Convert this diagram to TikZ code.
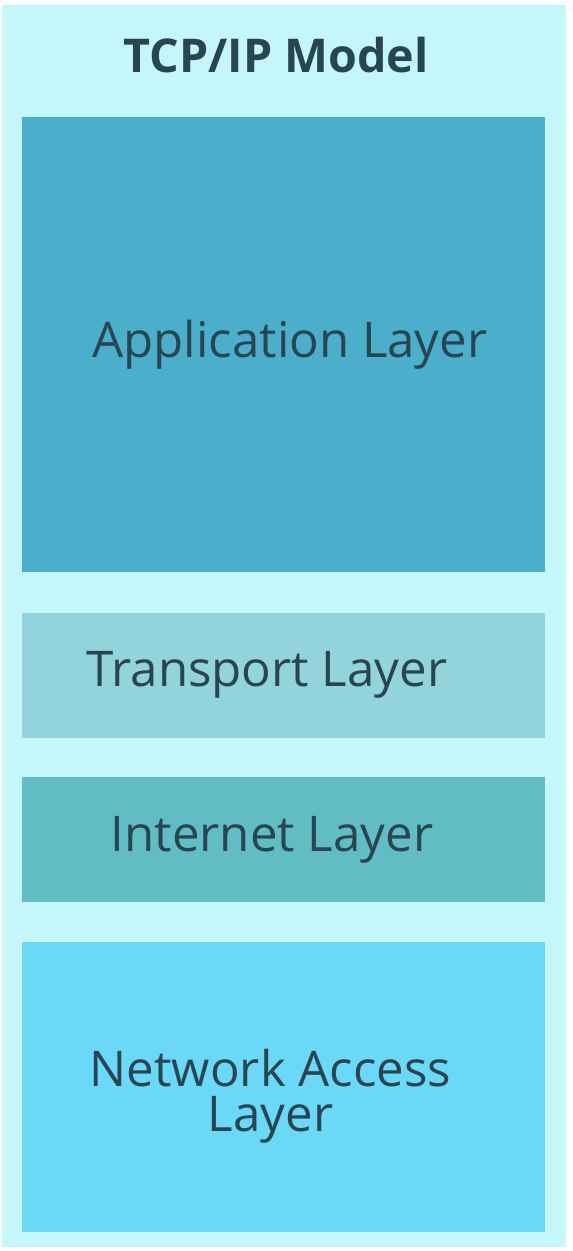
\documentclass[tikz,border=0pt]{standalone}
\usepackage{fontspec}
\setmainfont{Open Sans}
\IfFontExistsTF{Open Sans SemiBold}
  {\newfontfamily\headfont{Open Sans SemiBold}}
  {\newfontfamily\headfont{Open Sans}[UprightFont=*-Bold]}
\usetikzlibrary{positioning}
\definecolor{panelcyan}{RGB}{196, 246, 250}
\definecolor{appblue}{RGB}{75, 174, 203}
\definecolor{transteal}{RGB}{147, 211, 220}
\definecolor{netteal}{RGB}{98, 188, 196}
\definecolor{accessblue}{RGB}{108, 216, 248}
\definecolor{labeltext}{RGB}{40, 70, 82}

\begin{document}
\begin{tikzpicture}[
    x=0.02cm, y=-0.02cm,
    layer/.style={rectangle, minimum width=10.46cm, inner sep=0pt},
    caption/.style={align=center, text=labeltext, font=\fontsize{28}{25.5}\selectfont, inner sep=0pt},
    title/.style={text=labeltext, font=\fontsize{26.5}{30}\selectfont\headfont}
]

% page and panel
\useasboundingbox (0,0) rectangle (572,1251);
\fill[white] (0,0) rectangle (572,1251);
\fill[panelcyan] (2,5) rectangle (566,1247);

% title
\node[title] (model) at (276,55) {TCP/IP Model};

% layers, top to bottom
\node[layer, fill=appblue, minimum height=9.1cm] (app) at (283.5,344.5) {};
\node[layer, fill=transteal, minimum height=2.5cm, below=0.8cm of app] (transport) {};
\node[layer, fill=netteal, minimum height=2.5cm, below=0.78cm of transport] (internet) {};
\node[layer, fill=accessblue, minimum height=5.8cm, below=0.78cm of internet] (access) {};

% layer names
\node[caption] (appname) at ([xshift=0.13cm]app.center) {Application Layer};
\node[caption] (transportname) at ([xshift=-0.33cm]transport.center) {Transport Layer};
\node[caption] (internetname) at ([xshift=-0.23cm]internet.center) {Internet Layer};
\node[caption] (accessname) at ([xshift=-0.26cm, yshift=-0.18cm]access.center) {Network Access\\Layer};

\end{tikzpicture}
\end{document}
